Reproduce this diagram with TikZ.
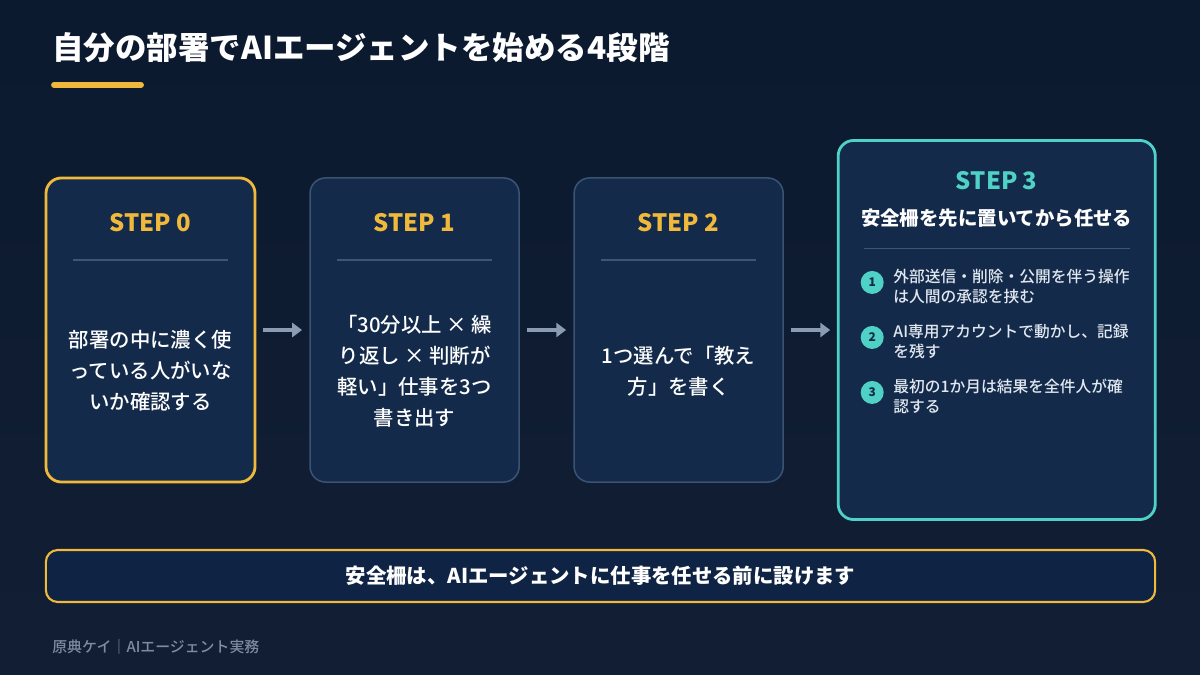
\documentclass[tikz,border=0pt]{standalone}
\usepackage{fontspec}
\setmainfont{Noto Sans CJK JP}
\newfontfamily\jpmedium{Noto Sans CJK JP Medium}
\usepackage{tikz}
\usetikzlibrary{positioning}
\usetikzlibrary{calc}
\usetikzlibrary{arrows.meta}
\definecolor{bgtop}{HTML}{0B1A2F}
\definecolor{bgbottom}{HTML}{121E34}
\definecolor{boxnavy}{HTML}{132A4A}
\definecolor{stepgold}{HTML}{F0B93B}
\definecolor{stepteal}{HTML}{4FD1C5}
\definecolor{edgegray}{HTML}{3A5372}
\definecolor{sepblue}{HTML}{3C5675}
\definecolor{arrowgray}{HTML}{8A9BB3}
\definecolor{bannernavy}{HTML}{0F2444}
\definecolor{footgray}{HTML}{7F8BA0}
\definecolor{itemwhite}{HTML}{E2E8F0}
\tikzstyle{stepbox} = [draw = edgegray, line width = 1.1pt, fill = boxnavy, rounded corners = 11pt, minimum width = 5.225cm, minimum height = 7.6cm, inner sep = 0pt, outer sep = 0pt]
\tikzstyle{steptitle} = [text = stepgold, font = \bfseries\fontsize{17}{20}\selectfont]
\tikzstyle{steptext} = [text = white, align = center, font = \jpmedium\fontsize{14.5}{22}\selectfont]
\tikzstyle{itemtext} = [text = itemwhite, align = left, anchor = west, inner sep = 0pt, font = \jpmedium\fontsize{11.2}{14.2}\selectfont]
\tikzstyle{itemdot} = [circle, fill = stepteal, minimum size = 0.575cm, inner sep = 0pt, text = boxnavy, font = \bfseries\fontsize{8.5}{8.5}\selectfont]
\tikzstyle{sepline} = [draw = sepblue, line width = 1pt]
\tikzstyle{flow} = [-{Triangle[length = 7pt, width = 10pt]}, line width = 2.4pt, draw = arrowgray, shorten < = 0.2cm, shorten > = 0.2cm]
\begin{document}
\begin{tikzpicture}[x = 0.025cm, y = -0.025cm]

		% Background
		\shade[top color = bgtop, bottom color = bgbottom] (0, 0) rectangle (1200, 675);
		\useasboundingbox (0, 0) rectangle (1200, 675);

		% Title
		\node[anchor = base west, inner sep = 0pt, text = white, font = \bfseries\fontsize{22.4}{26}\selectfont] (title) at (52, 60) {自分の部署でAIエージェントを始める4段階};
		\draw[stepgold, line width = 4.2pt, line cap = round] (54, 85) -- (141, 85);

		% Step boxes
		\node[stepbox, draw = stepgold, line width = 2pt] (step0) at (150.5, 330) {};
		\node[stepbox, right = 1.375cm of step0] (step1) {};
		\node[stepbox, right = 1.375cm of step1] (step2) {};
		\node[stepbox, draw = stepteal, line width = 2pt, minimum width = 7.925cm, minimum height = 9.475cm, right = 1.375cm of step2] (step3) {};

		% Step 0
		\node[steptitle] (t0) at ($(step0.north) + (0, 45)$) {STEP 0};
		\draw[sepline] ($(step0.north west) + (27, 82)$) -- ($(step0.north east) + (-27, 82)$);
		\node[steptext] (b0) at ($(step0.north) + (0, 193)$) {部署の中に濃く使\\っている人がいな\\いか確認する};

		% Step 1
		\node[steptitle] (t1) at ($(step1.north) + (0, 45)$) {STEP 1};
		\draw[sepline] ($(step1.north west) + (27, 82)$) -- ($(step1.north east) + (-27, 82)$);
		\node[steptext] (b1) at ($(step1.north) + (0, 193)$) {「30分以上 × 繰\\り返し × 判断が\\軽い」仕事を3つ\\書き出す};

		% Step 2
		\node[steptitle] (t2) at ($(step2.north) + (0, 45)$) {STEP 2};
		\draw[sepline] ($(step2.north west) + (27, 82)$) -- ($(step2.north east) + (-27, 82)$);
		\node[steptext] (b2) at ($(step2.north) + (0, 193)$) {1つ選んで「教え\\方」を書く};

		% Step 3
		\node[steptitle, text = stepteal] (t3) at ($(step3.north) + (0, 40)$) {STEP 3};
		\node[steptext, font = \bfseries\fontsize{13.8}{16}\selectfont] (s3) at ($(step3.north) + (0, 78)$) {安全柵を先に置いてから任せる};
		\draw[sepline] ($(step3.north west) + (26, 108)$) -- ($(step3.north east) + (-25, 108)$);
		\node[itemdot] (d1) at ($(step3.north west) + (34, 142)$) {1};
		\node[itemtext] (i1) at ($(step3.north west) + (55, 146)$) {外部送信・削除・公開を伴う操作\\は人間の承認を挟む};
		\node[itemdot] (d2) at ($(step3.north west) + (34, 197)$) {2};
		\node[itemtext] (i2) at ($(step3.north west) + (55, 201)$) {AI専用アカウントで動かし、記録\\を残す};
		\node[itemdot] (d3) at ($(step3.north west) + (34, 252)$) {3};
		\node[itemtext] (i3) at ($(step3.north west) + (55, 256)$) {最初の1か月は結果を全件人が確\\認する};

		% Connect the steps
		\draw[flow] (step0) -- (step1);
		\draw[flow] (step1) -- (step2);
		\draw[flow] (step2) -- (step3);

		% Banner
		\node[draw = stepgold, line width = 1.5pt, fill = bannernavy, rounded corners = 8.5pt, minimum width = 27.725cm, minimum height = 1.3cm, text = white, font = \bfseries\fontsize{14.5}{18}\selectfont] (note) at (600.5, 576) {安全柵は、AIエージェントに仕事を任せる前に設けます};

		% Footer
		\node[anchor = base west, inner sep = 0pt, text = footgray, font = \jpmedium\fontsize{10.6}{12}\selectfont] (credit) at (52, 652) {原典ケイ｜AIエージェント実務};

\end{tikzpicture}
\end{document}
